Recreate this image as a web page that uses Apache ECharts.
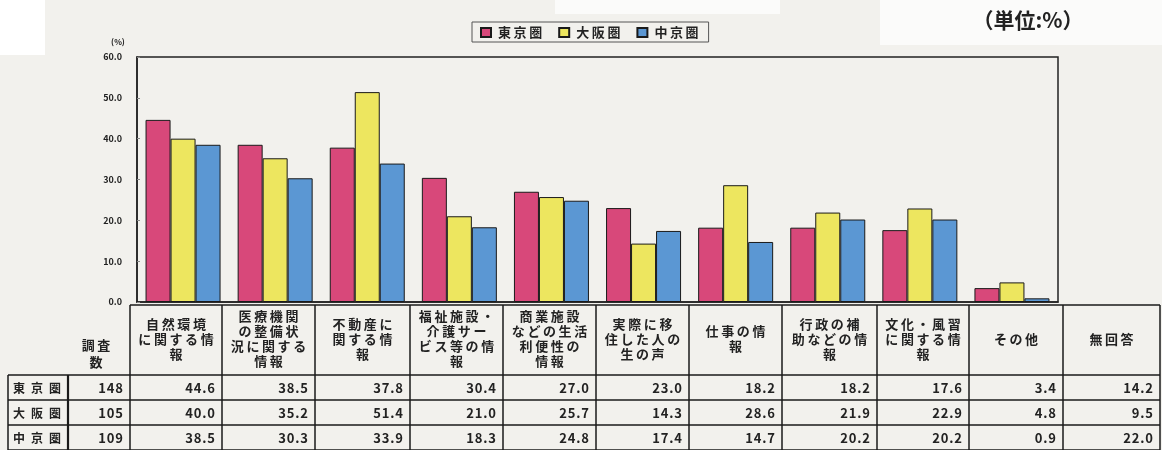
<!DOCTYPE html>
<html><head><meta charset="utf-8">
<script src="https://cdn.jsdelivr.net/npm/echarts@6/dist/echarts.min.js"></script>
<style>html,body{margin:0;padding:0;background:#f2f1ed}#c{width:1162px;height:450px}</style>
</head><body><div id="c"></div>
<script>
// ---- data ----
const seriesNames = ['東京圏', '大阪圏', '中京圏'];
const headerLabels = [
  ['自然環境', 'に関する情', '報'],
  ['医療機関', 'の整備状', '況に関する', '情報'],
  ['不動産に', '関する情', '報'],
  ['福祉施設・', '介護サー', 'ビス等の情', '報'],
  ['商業施設', 'などの生活', '利便性の', '情報'],
  ['実際に移', '住した人の', '生の声'],
  ['仕事の情', '報'],
  ['行政の補', '助などの情', '報'],
  ['文化・風習', 'に関する情', '報'],
  ['その他'],
  ['無回答']
];
const sampleCounts = [148, 105, 109];
const tokyo  = [44.6, 38.5, 37.8, 30.4, 27.0, 23.0, 18.2, 18.2, 17.6, 3.4, 14.2];
const osaka  = [40.0, 35.2, 51.4, 21.0, 25.7, 14.3, 28.6, 21.9, 22.9, 4.8, 9.5];
const chukyo = [38.5, 30.3, 33.9, 18.3, 24.8, 17.4, 14.7, 20.2, 20.2, 0.9, 22.0];
const countHeader = ['調査', '数'];
const unitText = '（単位:%）';
const axisUnit = '(%)';

// ---- layout / style ----
const COLORS = ['#d8487a', '#ede65f', '#5b97d3'];
const FONT = '"Noto Sans CJK JP", "Noto Sans", sans-serif';
const colEdges = [130, 222, 315, 410, 503, 596, 689, 782, 877, 969, 1063, 1160];
const rowEdges = [375, 400, 425, 450];
const headerTop = 305;
const spaced = s => s.split('').join('\u2009');
const hair = s => String(s).split('').join('\u200A');

const nBars = 10;
const cats = headerLabels.slice(0, nBars).map(l => l.join(''));
const allSeries = [tokyo, osaka, chukyo];

const chart = echarts.init(document.getElementById('c'));

const g = [];
// scan artifacts (white patches)
g.push({type: 'rect', shape: {x: 0, y: 0, width: 45, height: 55}, style: {fill: '#ffffff'}, z: -10});
g.push({type: 'rect', shape: {x: 880, y: 0, width: 282, height: 45}, style: {fill: '#fbfbfa'}, z: -10});
g.push({type: 'rect', shape: {x: 555, y: 0, width: 225, height: 14}, style: {fill: '#fbfbfa'}, z: -10});

// unit text
g.push({type: 'text', style: {text: unitText, x: 1028, y: 20, align: 'center', verticalAlign: 'middle',
  font: 'bold 21px ' + FONT, fill: '#222'}});
g.push({type: 'text', style: {text: axisUnit, x: 118, y: 42, align: 'center', verticalAlign: 'middle',
  font: 'bold 8px ' + FONT, fill: '#222'}});

const LINE = '#1a1a1a';
function line(x1, y1, x2, y2, w) {
  g.push({type: 'line', shape: {x1, y1, x2, y2}, style: {stroke: LINE, lineWidth: w || 1.5}, z: 10});
}
// table lines
line(colEdges[0], headerTop, colEdges[colEdges.length - 1], headerTop);
rowEdges.forEach(y => line(8, y, colEdges[colEdges.length - 1], y));
colEdges.forEach(x => line(x, headerTop, x, 450));
line(8, rowEdges[0], 8, 450);
line(68, rowEdges[0], 68, 450, 2.2);

// headers
headerLabels.forEach((lines, i) => {
  const cx = (colEdges[i] + colEdges[i + 1]) / 2;
  g.push({type: 'text', style: {text: lines.map(spaced).join('\n'), x: cx, y: 339, align: 'center',
    verticalAlign: 'middle', font: 'bold 13px ' + FONT, lineHeight: 15, fill: '#222'}, z: 11});
});
g.push({type: 'text', style: {text: countHeader.map(spaced).join('\n'), x: 96, y: 354, align: 'center',
  verticalAlign: 'middle', font: 'bold 13px ' + FONT, lineHeight: 17, fill: '#222'}, z: 11});

// rows
seriesNames.forEach((name, r) => {
  const cy = (rowEdges[r] + rowEdges[r + 1]) / 2 + 1;
  g.push({type: 'text', style: {text: name.split('').join('\u2002'), x: 13, y: cy, align: 'left',
    verticalAlign: 'middle', font: 'bold 12px ' + FONT, fill: '#222'}, z: 11});
  g.push({type: 'text', style: {text: hair(sampleCounts[r]), x: 123, y: cy, align: 'right',
    verticalAlign: 'middle', font: 'bold 13px ' + FONT, fill: '#222'}, z: 11});
  allSeries[r].forEach((v, i) => {
    g.push({type: 'text', style: {text: hair(v.toFixed(1)), x: colEdges[i + 1] - 7, y: cy, align: 'right',
      verticalAlign: 'middle', font: 'bold 13px ' + FONT, fill: '#222'}, z: 11});
  });
});

chart.setOption({
  backgroundColor: '#f2f1ed',
  animation: false,
  legend: {
    data: seriesNames,
    left: 472, top: 22,
    padding: [4, 10, 3, 8],
    itemGap: 16,
    itemWidth: 10, itemHeight: 9,
    icon: 'rect',
    borderColor: '#555', borderWidth: 1,
    formatter: n => spaced(n),
    textStyle: {fontFamily: FONT, fontWeight: 'bold', fontSize: 13, color: '#222', padding: [0, 0, 0, 2]}
  },
  grid: {left: 137, right: 104, top: 57, bottom: 148, show: true, borderColor: '#222', borderWidth: 1.5},
  xAxis: {
    type: 'category', data: cats,
    axisLine: {show: true, lineStyle: {color: '#222', width: 1.5}},
    axisTick: {show: false}, axisLabel: {show: false}
  },
  yAxis: {
    type: 'value', min: 0, max: 60, interval: 10,
    axisLine: {show: true, lineStyle: {color: '#222', width: 1.5}},
    axisTick: {show: true, inside: true, length: 3, lineStyle: {color: '#888'}},
    splitLine: {show: false},
    axisLabel: {formatter: v => v.toFixed(1), margin: 15, fontFamily: FONT, fontWeight: 'bold', fontSize: 9, color: '#222'}
  },
  series: allSeries.map((arr, k) => ({
    name: seriesNames[k], type: 'bar', data: arr.slice(0, nBars),
    barWidth: 25, barGap: '0%',
    itemStyle: {color: COLORS[k], borderColor: '#1a1a1a', borderWidth: 1}
  })),
  graphic: g
});
</script></body></html>
